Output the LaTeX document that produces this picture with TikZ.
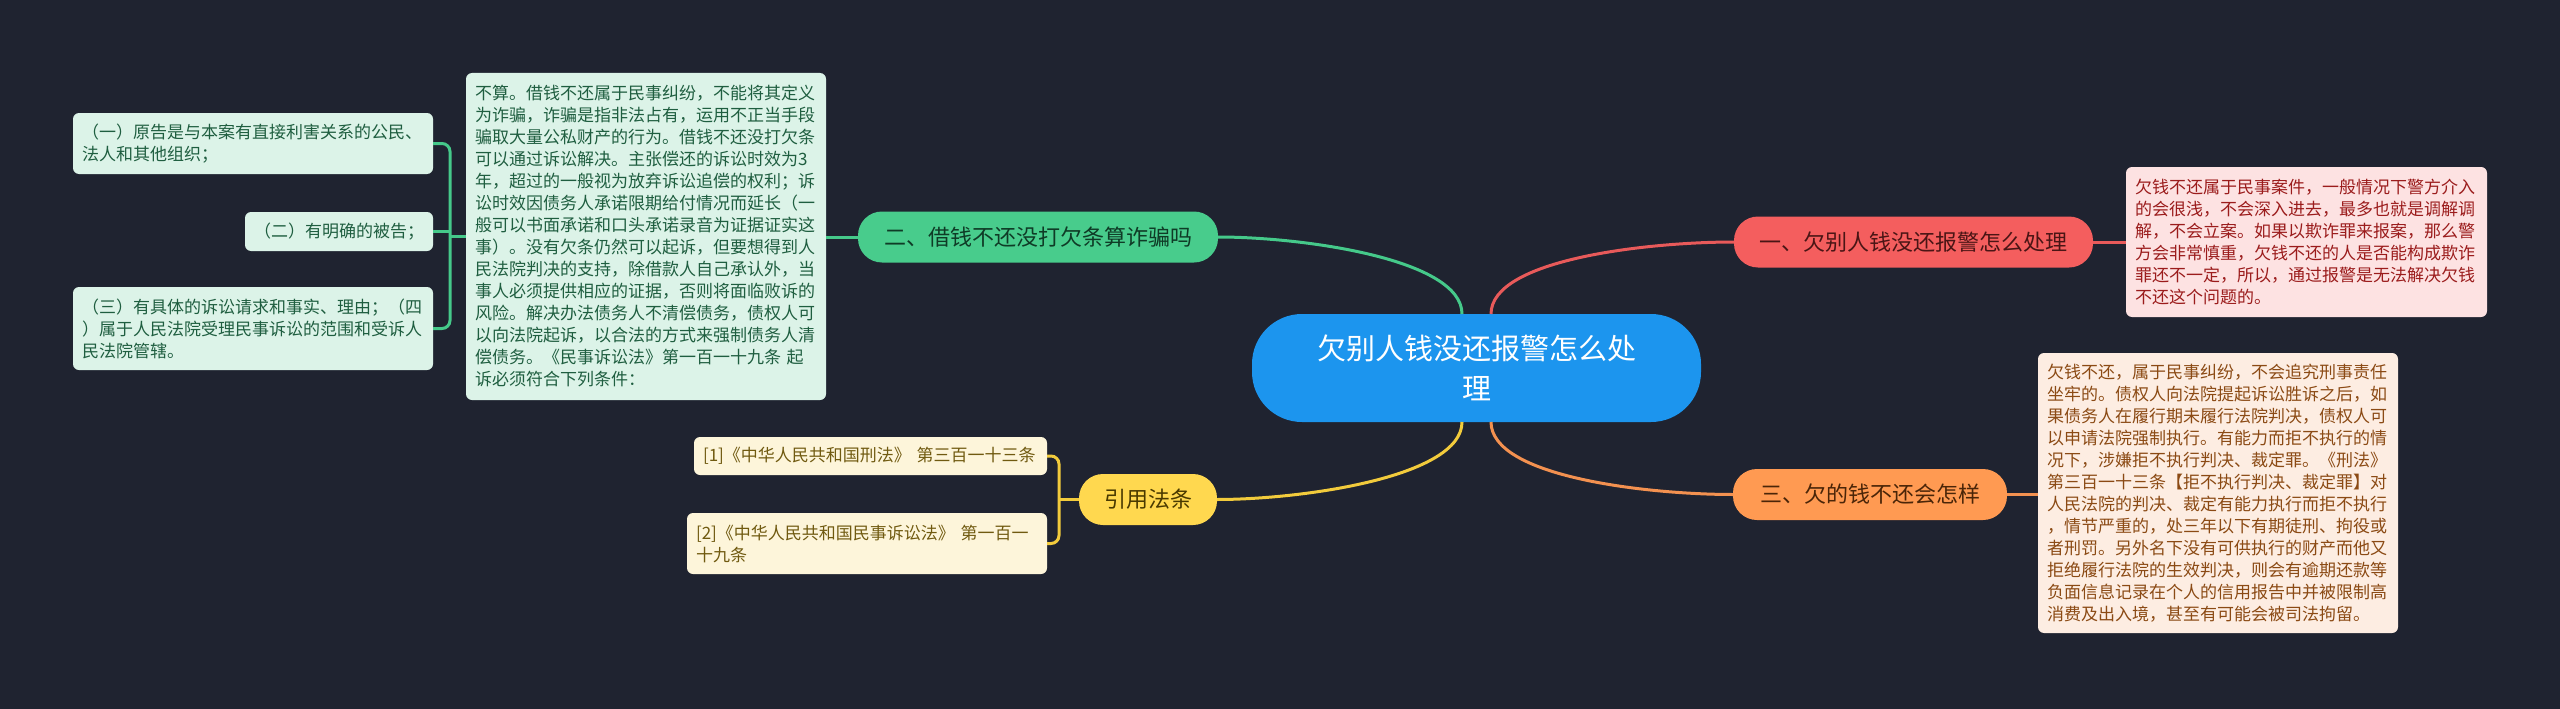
\documentclass[tikz,border=0pt]{standalone}
\usepackage{fontspec}
\setmainfont{Noto Sans CJK SC}
\definecolor{bg}{HTML}{1F2330}
\definecolor{cblue}{HTML}{1C95EE}
\definecolor{nred}{HTML}{F45E5E}
\definecolor{ngreen}{HTML}{48CC8C}
\definecolor{nyellow}{HTML}{FFD84F}
\definecolor{norange}{HTML}{FF9A52}
\definecolor{lred}{HTML}{E85A5A}
\definecolor{lgreen}{HTML}{45C98A}
\definecolor{lyellow}{HTML}{F2CB3C}
\definecolor{lorange}{HTML}{F39150}
\definecolor{fred}{HTML}{FDE2E2}
\definecolor{fgreen}{HTML}{DCF3E8}
\definecolor{fyellow}{HTML}{FDF5DA}
\definecolor{forange}{HTML}{FDEDE2}
\definecolor{tred}{HTML}{9B1C1C}
\definecolor{tgreen}{HTML}{1F5E40}
\definecolor{tyellow}{HTML}{705A10}
\definecolor{torange}{HTML}{8B4A14}
\definecolor{ntred}{HTML}{4A1515}
\definecolor{ntgreen}{HTML}{0F3B26}
\definecolor{ntyellow}{HTML}{4A3A00}
\definecolor{ntorange}{HTML}{4A2508}
\begin{document}
\begin{tikzpicture}[x=1pt,y=-1pt,
  every node/.style={inner sep=0pt,outer sep=0pt},
  branch/.style={rounded corners=24pt,minimum height=51pt,align=center,font=\fontsize{22}{26}\selectfont},
  card/.style={rounded corners=6pt,align=left,inner xsep=9pt,font=\fontsize{17}{22}\selectfont},
  conn/.style={line width=3pt}]
\fill[bg] (0,0) rectangle (2560,709);
\useasboundingbox (0,0) rectangle (2560,709);

% central
\node[rounded corners=50pt,fill=cblue,text=white,minimum width=449pt,minimum height=108pt,align=center,
  font=\fontsize{29}{40}\selectfont] (C) at (1476.5,368) {欠别人钱没还报警怎么处\\理};

% branches
\node[branch,fill=nred,text=ntred,minimum width=359pt] (N1) at (1913.5,242) {一、欠别人钱没还报警怎么处理};
\node[branch,fill=ngreen,text=ntgreen,minimum width=360pt] (N2) at (1038,237) {二、借钱不还没打欠条算诈骗吗};
\node[branch,fill=nyellow,text=ntyellow,minimum width=138pt] (N3) at (1148,499.5) {引用法条};
\node[branch,fill=norange,text=ntorange,minimum width=274pt] (N4) at (1870,494.5) {三、欠的钱不还会怎样};

% cards
\node[card,fill=fred,text=tred,text width=343pt,minimum height=150pt] (R) at (2306.5,242) {欠钱不还属于民事案件，一般情况下警方介入\\的会很浅，不会深入进去，最多也就是调解调\\解，不会立案。如果以欺诈罪来报案，那么警\\方会非常慎重，欠钱不还的人是否能构成欺诈\\罪还不一定，所以，通过报警是无法解决欠钱\\不还这个问题的。};

\node[card,fill=forange,text=torange,text width=342pt,minimum height=280pt] (O) at (2218,493) {欠钱不还，属于民事纠纷，不会追究刑事责任\\坐牢的。债权人向法院提起诉讼胜诉之后，如\\果债务人在履行期未履行法院判决，债权人可\\以申请法院强制执行。有能力而拒不执行的情\\况下，涉嫌拒不执行判决、裁定罪。《刑法》\\第三百一十三条【拒不执行判决、裁定罪】对\\人民法院的判决、裁定有能力执行而拒不执行\\，情节严重的，处三年以下有期徒刑、拘役或\\者刑罚。另外名下没有可供执行的财产而他又\\拒绝履行法院的生效判决，则会有逾期还款等\\负面信息记录在个人的信用报告中并被限制高\\消费及出入境，甚至有可能会被司法拘留。};

\node[card,fill=fgreen,text=tgreen,text width=342pt,minimum height=327pt] (G) at (646,236.5) {不算。借钱不还属于民事纠纷，不能将其定义\\为诈骗，诈骗是指非法占有，运用不正当手段\\骗取大量公私财产的行为。借钱不还没打欠条\\可以通过诉讼解决。主张偿还的诉讼时效为3\\年，超过的一般视为放弃诉讼追偿的权利；诉\\讼时效因债务人承诺限期给付情况而延长（一\\般可以书面承诺和口头承诺录音为证据证实这\\事）。没有欠条仍然可以起诉，但要想得到人\\民法院判决的支持，除借款人自己承认外，当\\事人必须提供相应的证据，否则将面临败诉的\\风险。解决办法债务人不清偿债务，债权人可\\以向法院起诉，以合法的方式来强制债务人清\\偿债务。《民事诉讼法》第一百一十九条 起\\诉必须符合下列条件：};

\node[card,fill=fgreen,text=tgreen,text width=342pt,minimum height=61pt] (L1) at (253,143.5) {（一）原告是与本案有直接利害关系的公民、\\法人和其他组织；};
\node[card,fill=fgreen,text=tgreen,text width=170pt,minimum height=39pt] (L2) at (339,231.5) {（二）有明确的被告；};
\node[card,fill=fgreen,text=tgreen,text width=342pt,minimum height=83pt] (L3) at (253,328.5) {（三）有具体的诉讼请求和事实、理由；（四\\）属于人民法院受理民事诉讼的范围和受诉人\\民法院管辖。};

\node[card,fill=fyellow,text=tyellow,text width=335pt,minimum height=38pt] (Y1) at (870.5,456) {[1]《中华人民共和国刑法》 第三百一十三条};
\node[card,fill=fyellow,text=tyellow,text width=342pt,minimum height=61pt] (Y2) at (867,543.5) {[2]《中华人民共和国民事诉讼法》 第一百一\\十九条};

% connectors from centre
\draw[conn,lgreen] (N2.east) .. controls +(85,0) and +(0,-55) .. ([xshift=-14.5pt]C.north);
\draw[conn,lred] ([xshift=14.5pt]C.north) .. controls +(0,-55) and +(-85,0) .. (N1.west);
\draw[conn,lyellow] (N3.east) .. controls +(85,0) and +(0,55) .. ([xshift=-14.5pt]C.south);
\draw[conn,lorange] ([xshift=14.5pt]C.south) .. controls +(0,55) and +(-85,0) .. (N4.west);

% straight connectors
\draw[conn,lred] (N1.east) -- (R.west);
\draw[conn,lorange] (N4.east) -- (N4.east -| O.west);
\draw[conn,lgreen] (N2.west) -- (N2.west -| G.east);

% green bracket
\coordinate (gb) at (450,236.5);
\draw[conn,lgreen] (G.west) -- (gb);
\draw[conn,lgreen,rounded corners=8pt] (L1.east) -| (gb) |- (L3.east);
\draw[conn,lgreen] (L2.east) -- (L2.east -| gb);

% yellow bracket
\coordinate (yb) at (1059,499.5);
\draw[conn,lyellow] (N3.west) -- (yb);
\draw[conn,lyellow,rounded corners=8pt] (Y1.east) -| (yb) |- (Y2.east);
\end{tikzpicture}
\end{document}
